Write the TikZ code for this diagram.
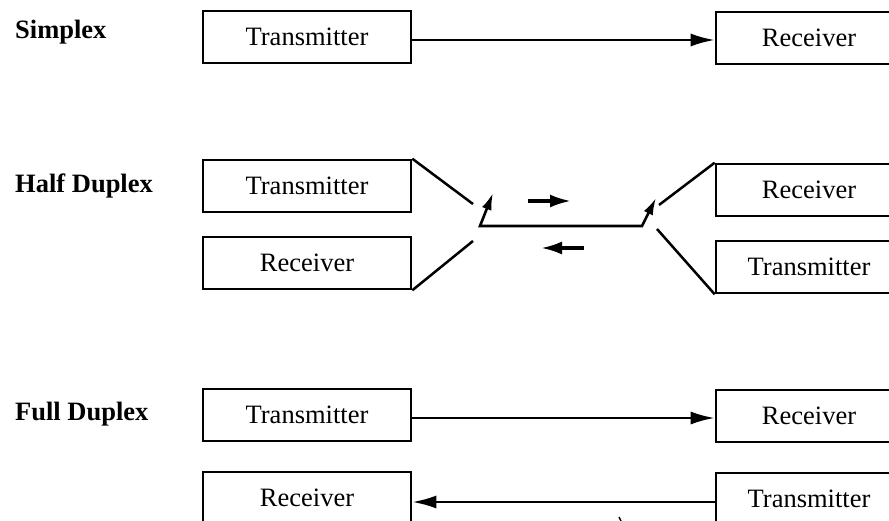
\documentclass[tikz,border=0pt]{standalone}
\usepackage{fontspec}
\setmainfont{Liberation Serif}
\usetikzlibrary{arrows.meta,calc}
\newcommand\boxfont{\fontsize{26.5}{30}\selectfont}
\newcommand\labelfont{\fontsize{26.5}{30}\selectfont\bfseries}
\tikzset{
  unitbox/.style={draw, line width=2.6pt, minimum height=52pt, inner sep=0pt, font=\boxfont},
  leftbox/.style={unitbox, minimum width=208pt},
  rightbox/.style={unitbox, minimum width=186pt},
  modelabel/.style={anchor=west, inner sep=0pt, font=\labelfont},
  link/.style={line width=2.4pt, -{Latex[length=24pt,width=13pt]}},
  wire/.style={line width=2.5pt},
  switchline/.style={line width=2.6pt, {Latex[length=17pt,width=10pt]}-{Latex[length=17pt,width=10pt]}},
  dirarrow/.style={line width=3.2pt, -{Latex[length=21pt,width=13pt]}},
}
\begin{document}
\begin{tikzpicture}[x=1pt,y=-1pt]
\useasboundingbox (0,0) rectangle (889,521);
\begin{scope}
\clip (0,0) rectangle (889,521);

% Simplex
\node[modelabel] (lS) at (15,32) {Simplex};
\node[leftbox]  (sT) at (307,37) {Transmitter};
\node[rightbox] (sR) at (809,38) {Receiver};
\draw[link] (sT.east |- 0,40) -- (sR.west |- 0,40);

% Half duplex: two stations sharing one line through switches
\node[modelabel] (lH) at (15,186) {Half Duplex};
\node[leftbox]  (hT)  at (307,186) {Transmitter};
\node[leftbox]  (hR)  at (307,263) {Receiver};
\node[rightbox] (hR2) at (809,190) {Receiver};
\node[rightbox] (hT2) at (809,267) {Transmitter};

\coordinate (lp1) at (473,204);
\coordinate (lp2) at (473,241);
\coordinate (lsw) at (480,226);
\coordinate (lst) at (493,193);
\coordinate (rsw) at (642,226);
\coordinate (rst) at (656,198);
\coordinate (rp1) at (659,205);
\coordinate (rp2) at (657,229);

\draw[wire] (hT.north east) -- (lp1);
\draw[wire] (hR.south east) -- (lp2);
\draw[wire] (hR2.north west) -- (rp1);
\draw[wire] (hT2.south west) -- (rp2);
\draw[switchline] (lst) -- (lsw) -- (rsw) -- (rst);

\coordinate (da1) at (528,201);
\coordinate (da2) at (571,201);
\coordinate (db1) at (584,248);
\coordinate (db2) at (541,248);
\draw[dirarrow] (da1) -- (da2);
\draw[dirarrow] (db1) -- (db2);

% Full duplex
\node[modelabel] (lF) at (15,414) {Full Duplex};
\node[leftbox]  (fT) at (307,415) {Transmitter};
\node[rightbox] (fR) at (809,416) {Receiver};
\draw[link] (fT.east |- 0,418) -- (fR.west |- 0,418);

\node[leftbox]  (bR) at (307,498) {Receiver};
\node[rightbox] (bT) at (809,499) {Transmitter};
\draw[link] (bT.west |- 0,502) -- (bR.east |- 0,502);

\draw[line width=1.5pt] (619,517) -- (621,521);
\end{scope}
\end{tikzpicture}
\end{document}
